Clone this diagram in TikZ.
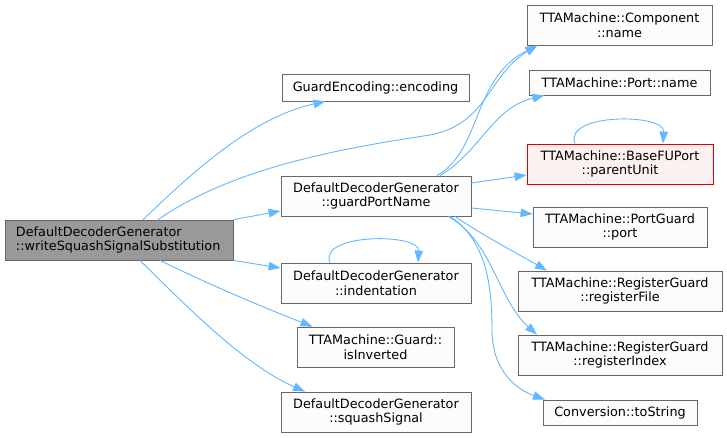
\documentclass[tikz,border=0pt]{standalone}
\usepackage{fontspec}
\setmainfont{DejaVu Sans}
\usetikzlibrary{arrows.meta}
\definecolor{edgec}{HTML}{63B8FF}
\definecolor{nodebd}{HTML}{666666}
\definecolor{nodefill}{HTML}{FBFCFB}
\definecolor{mainfill}{HTML}{999999}
\definecolor{redbd}{HTML}{E00000}
\definecolor{redfill}{HTML}{FCF0F0}
\begin{document}
\begin{tikzpicture}[x=1pt,y=-1pt,
  fn/.style={draw=nodebd,fill=nodefill,line width=0.8pt,inner sep=0pt,align=center,
    font=\fontsize{12.8}{14.7}\selectfont,text=black},
  mainfn/.style={fn,fill=mainfill,align=left},
  redfn/.style={fn,draw=redbd,fill=redfill},
  call/.style={draw=edgec,line width=0.9pt,-{Triangle[length=12pt,width=8.5pt]}}]
\fill[white] (0,0) rectangle (727,437);
\useasboundingbox (0,0) rectangle (727,437);

\node[mainfn,minimum width=228pt,minimum height=40pt] (main) at (119,240) {\makebox[206pt][l]{DefaultDecoderGenerator}\\::writeSquashSignalSubstitution};
\node[fn,minimum width=187pt,minimum height=27pt] (enc) at (375.5,87.5) {GuardEncoding::encoding};
\node[fn,minimum width=190pt,minimum height=40pt] (gpn) at (376,196) {DefaultDecoderGenerator\\::guardPortName};
\node[fn,minimum width=190pt,minimum height=40pt] (ind) at (376,283) {DefaultDecoderGenerator\\::indentation};
\node[fn,minimum width=157pt,minimum height=40pt] (inv) at (375.5,347) {TTAMachine::Guard::\\isInverted};
\node[fn,minimum width=190pt,minimum height=40pt] (sq) at (376,412) {DefaultDecoderGenerator\\::squashSignal};
\node[fn,minimum width=185pt,minimum height=40pt] (comp) at (619.5,25) {TTAMachine::Component\\::name};
\node[fn,minimum width=181pt,minimum height=25pt] (port) at (619.5,82.5) {TTAMachine::Port::name};
\node[redfn,minimum width=186pt,minimum height=40pt] (pu) at (620,164) {TTAMachine::BaseFUPort\\::parentUnit};
\node[fn,minimum width=174pt,minimum height=40pt] (pg) at (620,227) {TTAMachine::PortGuard\\::port};
\node[fn,minimum width=204pt,minimum height=40pt] (rf) at (620,291) {TTAMachine::RegisterGuard\\::registerFile};
\node[fn,minimum width=204pt,minimum height=40pt] (ri) at (620,355) {TTAMachine::RegisterGuard\\::registerIndex};
\node[fn,minimum width=154pt,minimum height=25pt] (ts) at (620,412.5) {Conversion::toString};

% edges from main
\draw[call] ([xshift=24pt]main.north) .. controls (190,175) and (250,118) .. ([xshift=-50pt]enc.south);
\draw[call] ([xshift=39pt]main.north) .. controls (230,170) and (330,150) .. (430,135) .. controls (488,124) and (488,75) .. ([xshift=-82pt]comp.south);
\draw[call] (main.north east) -- ([yshift=-15pt]gpn.west);
\draw[call] (main.south east) -- ([yshift=15pt]ind.west);
\draw[call] ([xshift=41pt]main.south) .. controls (210,285) and (265,308) .. ([xshift=-63pt]inv.north);
\draw[call] ([xshift=21pt]main.south) .. controls (190,310) and (245,365) .. ([xshift=-71pt]sq.north);

% edges from guardPortName
\draw[call] ([xshift=61pt]gpn.north) .. controls (482,150) and (472,78) .. ([xshift=-82pt]comp.south);
\draw[call] ([xshift=64pt]gpn.north) .. controls (482,150) and (492,108) .. ([xshift=-75pt]port.south);
\draw[call] ([yshift=13pt]gpn.east) -- ([yshift=-11pt]pu.west);
\draw[call] ([yshift=-12pt]gpn.east) -- ([yshift=13pt]pg.west);
\draw[call] ([xshift=79pt]gpn.south) .. controls (482,235) and (520,255) .. ([xshift=-73pt]rf.north);
\draw[call] ([xshift=72pt]gpn.south) .. controls (492,240) and (498,300) .. ([xshift=-83pt]ri.north);
\draw[call] ([xshift=74pt]gpn.south) .. controls (486,240) and (492,285) .. (492,330) .. controls (492,372) and (518,390) .. ([xshift=-75pt]ts.north);

% self loops
\draw[call] ([xshift=-46pt]ind.north) .. controls (318,233) and (420,233) .. ([xshift=42pt]ind.north);
\draw[call] ([xshift=-45pt]pu.north) .. controls (563,113) and (665,113) .. ([xshift=43pt]pu.north);
\end{tikzpicture}
\end{document}
